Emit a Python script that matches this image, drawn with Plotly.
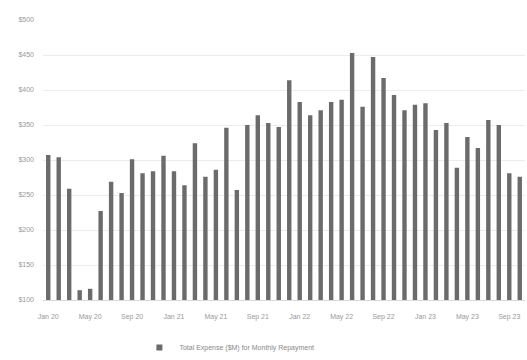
import plotly.graph_objects as go

months = ["Jan", "Feb", "Mar", "Apr", "May", "Jun", "Jul", "Aug", "Sep", "Oct", "Nov", "Dec"]
categories = [f"{months[i % 12]} {20 + i // 12}" for i in range(46)]
values = [307, 304, 259, 114, 116, 227, 269, 253, 301, 281, 284, 306,
          284, 264, 324, 276, 286, 346, 257, 350, 364, 353, 347, 414,
          383, 364, 371, 383, 386, 453, 376, 447, 417, 393, 371, 379,
          381, 343, 353, 289, 333, 317, 357, 350, 281, 276]
series_name = "Total Expense ($M) for Monthly Repayment"
tick_values = [100, 150, 200, 250, 300, 350, 400, 450, 500]
tick_labels = [f"${v}" for v in tick_values]
x_ticks = categories[::4]
bar_color = "#6b6b6b"

fig = go.Figure()
fig.add_trace(go.Bar(x=categories, y=values, name=series_name, showlegend=False,
                     marker=dict(color=bar_color, line=dict(width=0))))
# legend entry with a small square swatch
fig.add_trace(go.Scatter(x=[categories[0]], y=[None], mode="markers", name=series_name,
                         marker=dict(symbol="square", size=6, color=bar_color)))
fig.update_layout(
    width=527, height=360,
    margin=dict(l=43, r=2, t=20, b=60, autoexpand=False),
    paper_bgcolor="white", plot_bgcolor="white",
    bargap=0.58,
    showlegend=True,
    legend=dict(orientation="h", x=0.2, xanchor="left", yref="container", y=0.035,
                yanchor="middle", itemwidth=30,
                font=dict(size=7, color="#888888", family="Liberation Sans")),
    font=dict(family="Liberation Sans", size=7, color="#999999"),
)
fig.update_xaxes(type="category", range=[-0.5, len(categories) - 0.5],
                 tickmode="array", tickvals=x_ticks, ticktext=x_ticks,
                 tickangle=0, showgrid=False, showline=True, linecolor="#d9d9d9",
                 tickfont=dict(size=7, color="#999999"), ticklabelstandoff=10)
fig.update_yaxes(range=[100, 500], tickmode="array", tickvals=tick_values, ticktext=tick_labels,
                 showgrid=True, gridcolor="#ececec", zeroline=False,
                 tickfont=dict(size=7, color="#999999"), ticks="", ticklabelstandoff=8)
fig.write_html("out.html")
